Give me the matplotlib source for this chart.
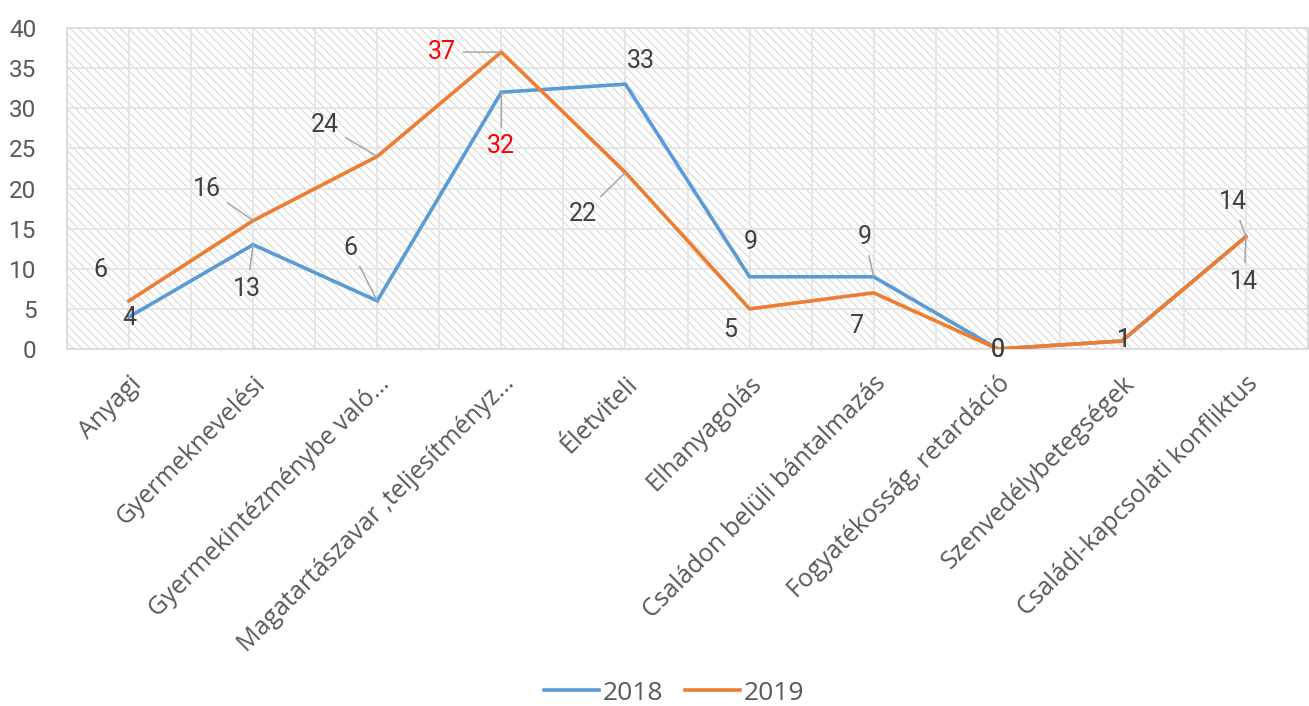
import matplotlib
matplotlib.use("Agg")
import matplotlib.pyplot as plt
from matplotlib.patches import Rectangle

categories = ["Anyagi", "Gyermeknevelési", "Gyermekintézménybe való…",
              "Magatartászavar ,teljesítményz…", "Életviteli", "Elhanyagolás",
              "Családon belüli bántalmazás", "Fogyatékosság, retardáció",
              "Szenvedélybetegségek", "Családi-kapcsolati konfliktus"]
series_names = ["2018", "2019"]
values_2018 = [4, 13, 6, 32, 33, 9, 9, 0, 1, 14]
values_2019 = [6, 16, 24, 37, 22, 5, 7, 0, 1, 14]
y_ticks = [0, 5, 10, 15, 20, 25, 30, 35, 40]

# label placement (offset in pixels from the point), leader flag, colour
off_2018 = [(0, -1), (-6, -44), (-27, 53), (0, -54), (15, 23), (1, 35), (-9, 40), (0, -1), (2, 1), (-13, 35)]
lead_2018 = [False, True, True, True, False, False, True, False, False, True]
red_2018 = [False, False, False, True, False, False, False, False, False, False]
off_2019 = [(-29, 31), (-46, 32), (-52, 31), (-59, 0), (-43, -42), (-19, -21), (-17, -33), (0, -1), (2, 1), (-2, -45)]
lead_2019 = [False, True, True, True, True, False, False, False, False, True]
red_2019 = [False, False, False, True, False, False, False, False, False, False]

BLUE = "#5B9BD5"
ORANGE = "#ED7D31"
TXT = "#404040"
TICK = "#595959"
GRID = "#e3e3e3"

plt.rcParams["hatch.linewidth"] = 0.7

fig = plt.figure(figsize=(13.09, 7.06), dpi=100)
ax = fig.add_axes([67 / 1309, 1 - 349 / 706, (1308 - 67) / 1309, (349 - 28) / 706])

x = list(range(len(categories)))
ax.set_xlim(-0.5, len(categories) - 0.5)
ax.set_ylim(0, 40)

# hatched background
bg = Rectangle((0, 0), 1, 1, transform=ax.transAxes, facecolor="white",
               edgecolor="#d6d6d6", hatch="\\\\\\\\", linewidth=0, zorder=0)
ax.add_patch(bg)

# grid
for yv in y_ticks:
    ax.axhline(yv, color=GRID, lw=1.2, zorder=1)
for k in range(2 * len(categories) + 1):
    ax.axvline(-0.5 + k * 0.5, color=GRID, lw=1.2, zorder=1)

l1, = ax.plot(x, values_2018, color=BLUE, lw=2.6, zorder=3, solid_joinstyle="miter", label=series_names[0])
l2, = ax.plot(x, values_2019, color=ORANGE, lw=2.6, zorder=4, solid_joinstyle="miter", label=series_names[1])

for spine in ax.spines.values():
    spine.set_color("#d9d9d9")
    spine.set_linewidth(1.2)

ax.set_yticks(y_ticks)
ax.set_xticks(x)
ax.set_xticklabels(categories, rotation=45, ha="right", rotation_mode="anchor",
                   fontsize=18, color=TICK, family="Open Sans")
for lab in ax.get_yticklabels():
    lab.set_family("Roboto")
ax.tick_params(axis="y", length=0, pad=22, labelsize=17.5, labelcolor=TICK)
ax.tick_params(axis="x", length=0, pad=16)

def add_labels(vals, offs, leads, reds):
    for i, v in enumerate(vals):
        dx, dy = offs[i]
        col = "#FF0000" if reds[i] else TXT
        ap = None
        if leads[i]:
            ap = dict(arrowstyle="-", color="#a6a6a6", lw=1.1, shrinkA=3, shrinkB=0)
        ax.annotate(str(v), xy=(i, v), xytext=(dx, dy), textcoords="offset pixels",
                    ha="center", va="center", fontsize=18, color=col, family="Roboto",
                    arrowprops=ap, zorder=5, annotation_clip=False)

add_labels(values_2018, off_2018, lead_2018, red_2018)
add_labels(values_2019, off_2019, lead_2019, red_2019)

leg = fig.legend(handles=[l1, l2], loc="center", bbox_to_anchor=(674 / 1309, 1 - 693 / 706),
                 ncol=2, frameon=False, fontsize=19, handlelength=2.1, columnspacing=0.8,
                 handletextpad=0.15)
for t in leg.get_texts():
    t.set_color(TICK)
    t.set_family("Open Sans")

fig.savefig("out.png", dpi=100)
